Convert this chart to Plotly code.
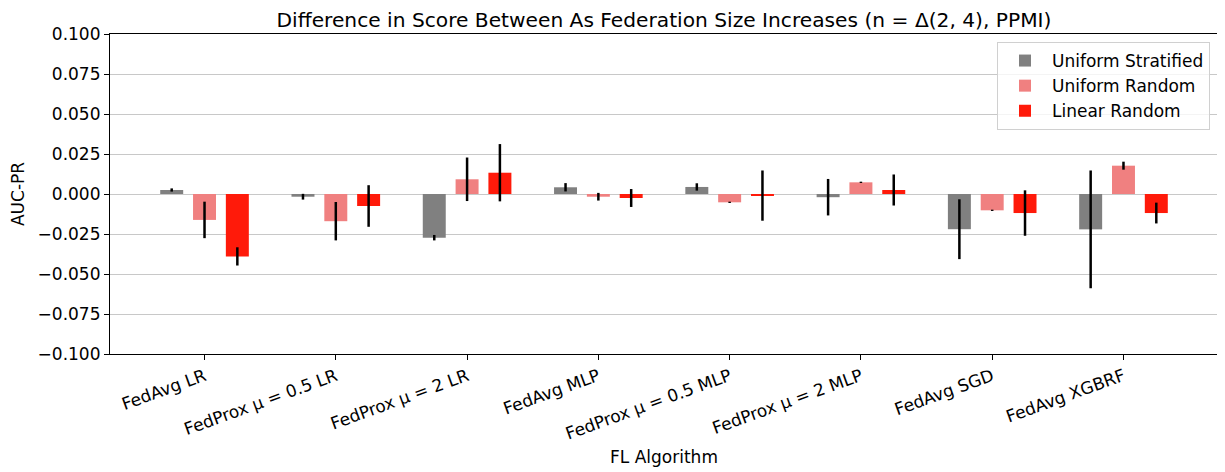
import plotly.graph_objects as go

categories = ["FedAvg LR", "FedProx \u03bc = 0.5 LR", "FedProx \u03bc = 2 LR", "FedAvg MLP",
              "FedProx \u03bc = 0.5 MLP", "FedProx \u03bc = 2 MLP", "FedAvg SGD", "FedAvg XGBRF"]
series_names = ["Uniform Stratified", "Uniform Random", "Linear Random"]

uniform_stratified = [0.0025, -0.0017, -0.0273, 0.0042, 0.0044, -0.0020, -0.0220, -0.0221]
uniform_stratified_err = [0.0010, 0.0018, 0.0017, 0.0026, 0.0023, 0.0114, 0.0187, 0.0368]
uniform_random = [-0.0162, -0.0170, 0.0092, -0.0017, -0.0052, 0.0073, -0.0102, 0.0177]
uniform_random_err = [0.0114, 0.0120, 0.0136, 0.0024, 0.0004, 0.0004, 0.0004, 0.0025]
linear_random = [-0.0390, -0.0075, 0.0133, -0.0025, -0.0010, 0.0025, -0.0119, -0.0119]
linear_random_err = [0.0057, 0.0130, 0.0179, 0.0056, 0.0157, 0.0097, 0.0142, 0.0065]

y_ticks = [0.100, 0.075, 0.050, 0.025, 0.000, -0.025, -0.050, -0.075, -0.100]

colors = ["#808080", "#F08080", "#FF1A0A"]
values = [uniform_stratified, uniform_random, linear_random]
errors = [uniform_stratified_err, uniform_random_err, linear_random_err]

x = list(range(len(categories)))
fig = go.Figure()
for name, vals, errs, col in zip(series_names, values, errors, colors):
    fig.add_trace(go.Bar(
        x=x, y=vals, name=name, marker=dict(color=col, line=dict(width=0)),
        error_y=dict(type="data", array=errs, visible=True, color="black", thickness=2.5, width=0),
    ))

font = "DejaVu Sans, sans-serif"
fig.update_layout(
    width=1217, height=464,
    margin=dict(l=102, r=7, t=26, b=118, autoexpand=False),
    paper_bgcolor="white", plot_bgcolor="white",
    barmode="group", bargap=0.25, bargroupgap=0.3,
    font=dict(family=font, size=17, color="black"),
    title=dict(text="Difference in Score Between As Federation Size Increases (n = \u0394(2, 4), PPMI)",
               x=0.5, xref="paper", xanchor="center", y=0.975, yref="container", yanchor="middle",
               font=dict(size=20.2)),
    legend=dict(x=0.9928, y=0.975, xanchor="right", yanchor="top", bgcolor="rgba(255,255,255,0.8)",
                bordercolor="#d0d0d0", borderwidth=1, font=dict(size=17),
                itemsizing="constant", itemwidth=44, tracegroupgap=0),
    showlegend=True,
)
fig.update_xaxes(
    range=[-0.72, 7.72], tickmode="array", tickvals=x, ticktext=categories, tickangle=-20,
    ticks="outside", ticklen=5, tickcolor="black", showline=True, linecolor="black", linewidth=1.2,
    mirror=True, showgrid=False, zeroline=False, automargin=False,
    title=dict(text="FL Algorithm", font=dict(size=17), standoff=8),
)
fig.update_yaxes(
    range=[-0.1, 0.1], tickmode="array", tickvals=y_ticks,
    ticktext=[("\u2212" if v < 0 else "") + f"{abs(v):.3f}" for v in y_ticks],
    ticks="outside", ticklen=5, tickcolor="black", showline=True, linecolor="black", linewidth=1.2,
    mirror=True, showgrid=True, gridcolor="#c8c8c8", gridwidth=1.2, zeroline=False, automargin=False,
    title=dict(text="AUC-PR", font=dict(size=17), standoff=11),
)
fig.write_html("out.html")
